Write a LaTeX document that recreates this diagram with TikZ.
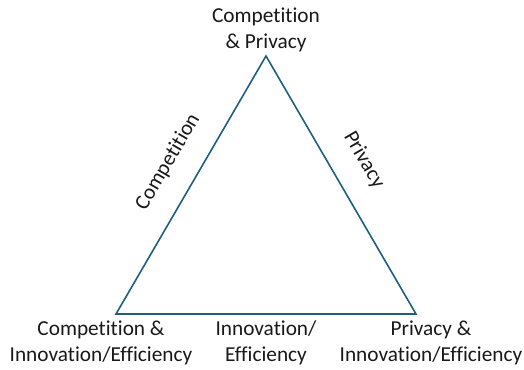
\documentclass[tikz,border=0pt]{standalone}
\usepackage{fontspec}
\setmainfont{Carlito}[Ligatures=NoCommon]
\definecolor{edgeblue}{HTML}{1F5F7E}
\begin{document}
\begin{tikzpicture}[x=1pt,y=-1pt,
  lbl/.style={font=\fontsize{21.3}{26}\selectfont, align=center, text=black!90, inner sep=0pt},
  edge/.style={draw=edgeblue, line width=1.6pt, line join=miter}]
\useasboundingbox (0,0) rectangle (524,369);
% corners of the triangle
\coordinate (top) at (266,56);
\coordinate (bl) at (116,314);
\coordinate (br) at (416,314);
\draw[edge] (top) -- (bl) -- (br) -- cycle;
% corner labels
\node[lbl] (ctop) at (266,30) {Competition\\\& Privacy};
\node[lbl] (cbl) at (101,343) {Competition \&\\Innovation/Efficiency};
\node[lbl] (cbr) at (431,343) {Privacy \&\\Innovation/Efficiency};
% side labels
\node[lbl] (sbottom) at (266,343) {Innovation/\\Efficiency};
\node[lbl, rotate=59.7] (sleft) at (168,162) {Competition};
\node[lbl, rotate=-59.7] (sright) at (364,160) {Privacy};
\end{tikzpicture}
\end{document}
